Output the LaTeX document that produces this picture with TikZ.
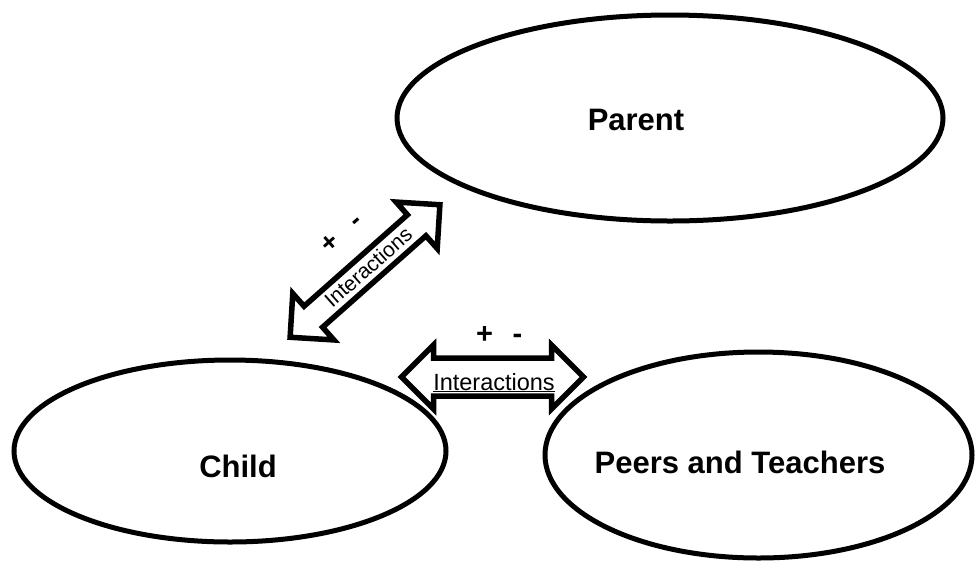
\documentclass[tikz,border=0pt]{standalone}
\usepackage{fontspec}
\setmainfont{Liberation Sans}
\usetikzlibrary{shapes.geometric}
\begin{document}
\begin{tikzpicture}[x=1pt,y=-1pt,
  ell/.style={draw,ellipse,line width=5pt,inner sep=0pt},
  lbl/.style={font=\fontsize{31}{36}\selectfont\bfseries,anchor=base,inner sep=0pt},
  barrow/.style={draw,fill=white,line width=5.5pt,line join=miter},
  pm/.style={font=\fontsize{29}{32}\selectfont\bfseries,inner sep=0pt},
  dpm/.style={font=\fontsize{27}{30}\selectfont\bfseries,inner sep=0pt,rotate=41.5},
  itxt/.style={font=\fontsize{23.5}{28}\selectfont,inner sep=0pt}]
\useasboundingbox (0,0) rectangle (976,571);
% ellipses
\node[ell,minimum width=546pt,minimum height=206pt] (parent) at (670,118) {};
\node[ell,minimum width=432pt,minimum height=182pt] (child) at (230,451) {};
\node[ell,minimum width=427pt,minimum height=206pt] (peers) at (758.5,455) {};
% horizontal double arrow (child <-> peers)
\coordinate (hc) at (492.5,377);
\begin{scope}[shift={(hc)}]
\draw[barrow] (-91,0) -- (-59,-32) -- (-59,-19) -- (59,-19) -- (59,-32) -- (91,0)
  -- (59,32) -- (59,19) -- (-59,19) -- (-59,32) -- cycle;
\end{scope}
% diagonal double arrow (child <-> parent)
\coordinate (dc) at (365,271);
\begin{scope}[shift={(dc)},rotate=41.5]
\draw[barrow] (-100,0) -- (-69,-31) -- (-69,-14) -- (69,-14) -- (69,-31) -- (100,0)
  -- (69,31) -- (69,14) -- (-69,14) -- (-69,31) -- cycle;
\end{scope}
% labels
\node[lbl] (tparent) at (636,130) {Parent};
\node[lbl] (tchild) at (238,477) {Child};
\node[lbl] (tpeers) at (740,473) {Peers and Teachers};
\node[itxt,anchor=base] (hint) at (494,390) {\underline{Interactions}};
\node[itxt,font=\fontsize{21}{25}\selectfont,rotate=41.5] (dint) at (368,267) {Interactions};
\node[pm,anchor=base] (hplus) at (484.5,343) {+};
\node[pm,anchor=base] (hminus) at (517.5,343) {-};
\node[dpm] (dplus) at (330,243) {+};
\node[dpm] (dminus) at (358,223) {-};
\end{tikzpicture}
\end{document}
